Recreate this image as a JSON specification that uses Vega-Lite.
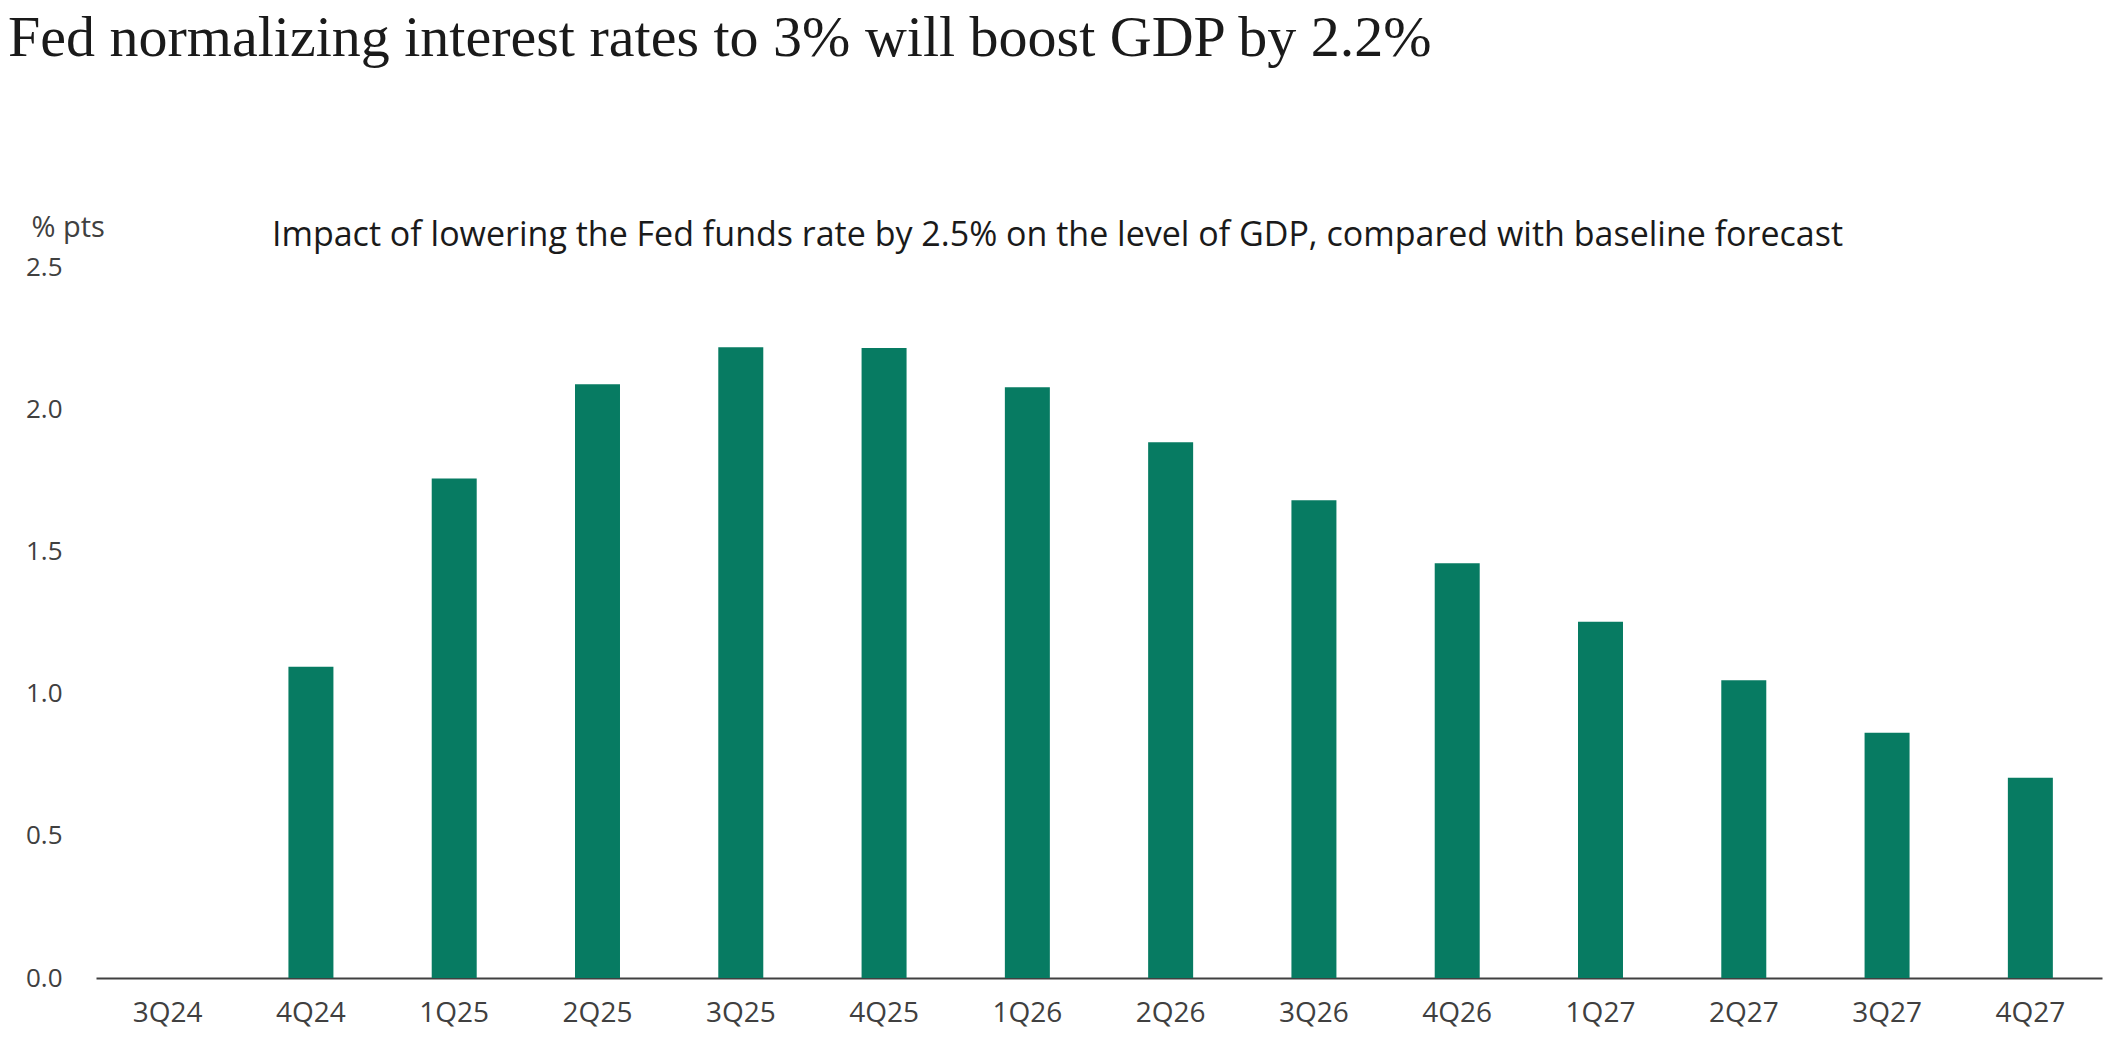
{
  "$schema": "https://vega.github.io/schema/vega-lite/v6.json",
  "width": 2006,
  "height": 711,
  "autosize": {"type": "none"},
  "padding": {"left": 96, "top": 267, "right": 12, "bottom": 78},
  "background": "white",
  "title": {
    "text": "Fed normalizing interest rates to 3% will boost GDP by 2.2%",
    "anchor": "start",
    "frame": "group",
    "dx": -88,
    "offset": 99,
    "baseline": "alphabetic",
    "font": "Liberation Serif",
    "fontSize": 58,
    "fontWeight": "normal",
    "color": "#1a1a1a"
  },
  "data": {
    "values": [
      {"quarter": "3Q24", "value": 0},
      {"quarter": "4Q24", "value": 1.094},
      {"quarter": "1Q25", "value": 1.756},
      {"quarter": "2Q25", "value": 2.088},
      {"quarter": "3Q25", "value": 2.218},
      {"quarter": "4Q25", "value": 2.215},
      {"quarter": "1Q26", "value": 2.077},
      {"quarter": "2Q26", "value": 1.884},
      {"quarter": "3Q26", "value": 1.68},
      {"quarter": "4Q26", "value": 1.458},
      {"quarter": "1Q27", "value": 1.253},
      {"quarter": "2Q27", "value": 1.047},
      {"quarter": "3Q27", "value": 0.862},
      {"quarter": "4Q27", "value": 0.704}
    ]
  },
  "layer": [
    {
      "mark": {"type": "bar", "color": "#077b62"},
      "encoding": {
        "x": {
          "field": "quarter",
          "type": "nominal",
          "sort": null,
          "scale": {"paddingInner": 0.686, "paddingOuter": 0.343},
          "axis": {
            "orient": "bottom",
            "title": null,
            "labelAngle": 0,
            "labelFont": "Open Sans",
            "labelFontSize": 28,
            "labelColor": "#404040",
            "labelPadding": 21,
            "ticks": false,
            "domain": true,
            "domainColor": "#404040",
            "domainWidth": 2,
            "grid": false
          }
        },
        "y": {
          "field": "value",
          "type": "quantitative",
          "scale": {"domain": [0, 2.5], "nice": false},
          "axis": {
            "title": "% pts",
            "titleAngle": 0,
            "titleAlign": "left",
            "titleBaseline": "middle",
            "titleX": -65,
            "titleY": -40,
            "titleFont": "Open Sans",
            "titleFontSize": 29,
            "titleFontWeight": "normal",
            "titleColor": "#404040",
            "values": [0, 0.5, 1, 1.5, 2, 2.5],
            "format": ".1f",
            "labelFont": "Open Sans",
            "labelFontSize": 26,
            "labelColor": "#404040",
            "labelPadding": 34,
            "ticks": false,
            "domain": false,
            "grid": false
          }
        }
      }
    },
    {
      "mark": {"type": "bar", "opacity": 0},
      "encoding": {
        "x": {
          "field": "quarter",
          "type": "nominal",
          "sort": null,
          "axis": {
            "orient": "top",
            "title": "Impact of lowering the Fed funds rate by 2.5% on the level of GDP, compared with baseline forecast",
            "titleX": 961,
            "titleY": -32,
            "titleAlign": "center",
            "titleBaseline": "middle",
            "titleFont": "Open Sans",
            "titleFontSize": 34,
            "titleFontWeight": "normal",
            "titleColor": "#1a1a1a",
            "labels": false,
            "ticks": false,
            "domain": false,
            "grid": false
          }
        },
        "y": {"field": "value", "type": "quantitative", "axis": null}
      }
    }
  ],
  "resolve": {"axis": {"x": "independent", "y": "independent"}},
  "config": {"view": {"stroke": null}}
}
